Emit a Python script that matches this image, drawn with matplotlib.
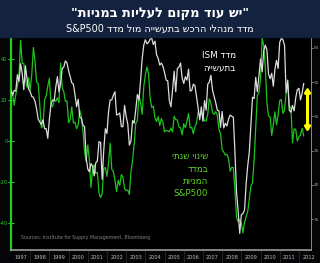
import matplotlib
matplotlib.use("Agg")
import matplotlib.pyplot as plt
import numpy as np
from matplotlib.patches import Rectangle

plt.rcParams["font.family"] = ["DejaVu Sans"]

# ISM manufacturing index, monthly Jan 1997 - Apr 2012 (right axis)
ism = [
    53.8, 53.1, 53.8, 53.7, 56.1, 55.1, 57.7, 56.3, 53.9, 57.4, 55.5, 54.0,
    53.6, 52.9, 52.8, 52.2, 51.1, 49.6, 49.2, 48.8, 49.5, 48.2, 48.2, 46.8,
    49.6, 51.8, 52.4, 52.3, 54.3, 55.8, 53.6, 54.8, 57.0, 57.2, 58.1, 57.8,
    56.7, 55.8, 54.9, 54.7, 53.2, 51.4, 52.5, 49.9, 49.7, 48.7, 48.5, 43.9,
    42.3, 41.9, 43.1, 42.7, 41.3, 43.2, 43.5, 46.3, 46.2, 40.8, 45.1, 48.2,
    47.5, 50.7, 52.4, 52.4, 53.1, 53.6, 50.2, 50.3, 50.5, 48.5, 48.5, 51.6,
    50.0, 48.9, 45.8, 46.4, 49.4, 49.0, 51.0, 53.2, 52.4, 55.2, 58.4, 60.4,
    61.2, 60.6, 60.8, 61.3, 61.4, 60.5, 61.0, 59.0, 58.5, 57.5, 57.8, 57.3,
    56.4, 55.3, 55.2, 52.3, 51.4, 53.8, 56.6, 53.6, 57.0, 57.2, 57.8, 55.6,
    54.8, 55.8, 55.3, 56.9, 53.7, 53.8, 54.7, 54.5, 52.9, 51.2, 49.5, 51.4,
    49.3, 52.3, 50.9, 54.7, 55.0, 56.0, 53.8, 52.9, 52.0, 50.9, 50.8, 48.4,
    50.7, 48.3, 49.0, 48.6, 49.6, 50.2, 50.0, 49.9, 44.8, 38.9, 36.2, 32.9,
    35.6, 35.8, 36.3, 40.1, 42.8, 44.8, 48.9, 52.8, 52.6, 55.7, 53.6, 55.9,
    58.4, 56.5, 59.6, 60.4, 59.7, 56.2, 55.5, 56.3, 54.4, 56.9, 58.2, 57.0,
    60.8, 61.4, 61.2, 60.4, 53.5, 55.3, 50.9, 50.6, 51.6, 50.8, 52.7, 53.9,
    54.1, 52.4, 53.4, 54.8,
]

# S&P500 year-over-year change in %, same months (left axis)
spx_yoy = [
    23.6, 23.6, 17.4, 22.5, 26.8, 31.9, 49.1, 37.9, 37.8, 29.8, 26.2, 30.9,
    24.7, 32.6, 45.6, 38.8, 28.7, 28.1, 17.5, 6.5, 7.4, 20.1, 21.9, 26.7,
    30.6, 18.0, 16.7, 20.1, 19.3, 21.1, 18.6, 37.9, 26.2, 24.0, 19.3, 19.5,
    8.9, 10.3, 16.6, 8.8, 9.1, 6.0, 7.7, 15.0, 12.0, 4.8, -5.3, -10.1,
    -2.0, -9.2, -22.6, -14.0, -11.6, -15.9, -15.4, -25.3, -27.6, -25.8, -13.4, -13.0,
    -17.3, -10.7, -1.1, -13.8, -15.0, -19.1, -24.7, -19.2, -21.7, -16.4, -17.8, -23.3,
    -24.2, -24.0, -26.1, -14.9, -9.7, -1.5, 8.6, 10.0, 22.2, 18.6, 13.0, 26.4,
    32.1, 36.1, 32.8, 20.7, 16.3, 17.0, 11.3, 9.5, 11.9, 7.5, 11.0, 9.0,
    4.4, 5.2, 4.9, 4.5, 6.3, 4.4, 12.0, 10.5, 10.2, 6.8, 6.4, 3.0,
    8.4, 6.4, 9.7, 13.3, 6.5, 6.6, 3.5, 6.9, 8.7, 14.2, 12.2, 13.6,
    12.3, 9.8, 9.7, 13.0, 20.6, 18.3, 13.9, 13.0, 14.3, 12.4, 5.7, 3.5,
    -4.1, -5.4, -6.9, -6.5, -8.6, -14.8, -12.9, -13.0, -23.7, -37.4, -39.5, -38.5,
    -40.1, -44.8, -39.7, -37.0, -34.4, -28.2, -22.1, -20.4, -9.3, 6.9, 22.3, 23.5,
    30.0, 50.2, 46.5, 36.0, 18.5, 12.2, 11.7, 2.7, 7.9, 14.2, 7.8, 12.8,
    19.7, 20.2, 13.4, 14.9, 23.5, 28.1, 17.2, 16.2, -0.9, 5.9, 5.6, 0.0,
    2.0, 2.9, 6.2, 2.5,
]

years = list(range(1997, 2013))
left_ticks = [40, 20, 0, -20, -40]
right_ticks = [60, 55, 50, 45, 40, 35]
gap_top, gap_bottom = 54.3, 47.7


def heb(s):
    # matplotlib has no bidi support, so write Hebrew in visual order
    return s[::-1]


t = 1997 + np.arange(len(ism)) / 12

fig = plt.figure(figsize=(3.2, 2.63), dpi=100, facecolor="#050507")
fig.patches.append(Rectangle((0, 1 - 37 / 263), 1, 37 / 263,
                             transform=fig.transFigure, color="#13223e", zorder=0))

fig.text(0.5, 1 - 14 / 263, '"' + heb("יש עוד מקום לעליות במניות") + '"',
         ha="center", va="center", color="white", fontsize=9.3, fontweight="bold")
fig.text(0.5, 1 - 29 / 263, "S&P500 " + heb("מדד מנהלי הרכש בתעשייה מול מדד"),
         ha="center", va="center", color="white", fontsize=6.9)

ax = fig.add_axes([11 / 320, 13 / 263, 300 / 320, 213 / 263])
ax.set_facecolor("black")
ax2 = ax.twinx()

green = "#1fc21f"
ax.plot(t, spx_yoy, color=green, lw=0.9)
ax2.plot(t, ism, color="#dcdcdc", lw=0.9)

ax.set_xlim(1997, 2012.63)
ax.set_ylim(-53.2, 50.7)
ax2.set_ylim(30.47, 61.6)

for s in ["top", "right"]:
    ax.spines[s].set_visible(False)
for s in ["top", "left", "bottom"]:
    ax2.spines[s].set_visible(False)
ax.spines["left"].set_color("#22cc22")
ax.spines["left"].set_linewidth(1.6)
ax.spines["bottom"].set_color("#9a9a9a")
ax.spines["bottom"].set_linewidth(1.2)
ax2.spines["right"].set_color("#8a8a8a")
ax2.spines["right"].set_linewidth(0.7)

ax.set_yticks(left_ticks)
ax.set_yticklabels([str(v) for v in left_ticks])
ax.tick_params(axis="y", colors="#22cc22", labelsize=3.6, direction="inout",
               length=4, width=0.8, pad=0.5)
ax2.set_yticks(right_ticks)
ax2.set_yticklabels([str(v) for v in right_ticks])
ax2.tick_params(axis="y", colors="#9a9a9a", labelsize=3.1, direction="out",
                length=1.5, width=0.6, pad=0.3)

ax.set_xticks([y + 0.5 for y in years])
ax.set_xticklabels([str(y) for y in years])
ax.set_xticks(years[1:], minor=True)
ax.tick_params(axis="x", which="major", length=0, labelsize=3.6,
               colors="#bbbbbb", pad=3.5)
ax.tick_params(axis="x", which="minor", length=11, width=0.4, color="#3a3a3a",
               direction="out")

ax2.annotate("", xy=(2012.45, gap_top), xytext=(2012.45, gap_bottom),
             arrowprops=dict(arrowstyle="<|-|>,head_length=0.25,head_width=0.15",
                             color="#ffff00", lw=2.2, shrinkA=0, shrinkB=0))

ax.text(2008.72, 41.5, "ISM " + heb("מדד"), color="white", fontsize=6.3,
        ha="right", va="center")
ax.text(2008.72, 35.6, heb("בתעשייה"), color="white", fontsize=6.3,
        ha="right", va="center")

label_green = "#5fd02a"
for i, line in enumerate([heb("שינוי שנתי"), heb("במדד"), heb("המניות"), "S&P500"]):
    ax.text(2007.26, -7.8 - i * 6.0, line, color=label_green, fontsize=6.3,
            ha="right", va="center")

ax.text(1997.5, -47.0, "Sources: Institute for Supply Management, Bloomberg",
        color="#808080", fontsize=3.4, ha="left", va="center")

fig.savefig("out.png", dpi=100, facecolor=fig.get_facecolor())
